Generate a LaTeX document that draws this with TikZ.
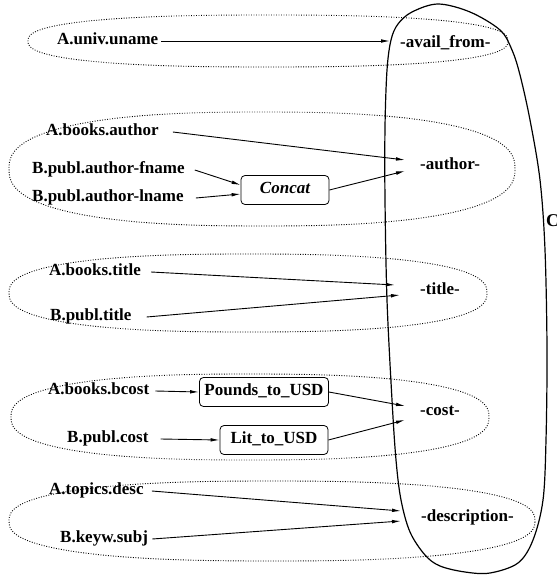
\documentclass[tikz,border=0pt]{standalone}
\usepackage{fontspec}
\setmainfont{Liberation Serif}
\usetikzlibrary{arrows.meta}
\newcommand\dottedoval[4]{%
  \draw[grp] plot[domain=0.5:360.5,samples=121]
    ({#1+#3*sign(cos(\x))*abs(cos(\x))^0.8},{#2+#4*sign(sin(\x))*abs(sin(\x))^0.8}) -- cycle;}
\begin{document}
\begin{tikzpicture}[x=1pt,y=-1pt,
  lbl/.style={font=\fontsize{17}{19}\selectfont\bfseries, inner sep=0pt, anchor=west, text height=11pt, text depth=3.5pt},
  fnbox/.style={draw, rounded corners=4pt, line width=0.8pt, font=\fontsize{17}{19}\selectfont\bfseries, minimum height=29pt, inner xsep=5pt, text height=11pt, text depth=3.5pt},
  arr/.style={-{Latex[length=9pt,width=3.6pt]}, line width=0.9pt},
  grp/.style={line width=0.9pt, dash pattern=on 0.9pt off 1.6pt},
  outer/.style={line width=1.2pt}]
\useasboundingbox (0,0) rectangle (556,577);

% dotted groups
\dottedoval{268}{41}{240}{26}
\dottedoval{262}{169}{253}{57}
\dottedoval{248}{293}{239}{39}
\dottedoval{250}{417}{239}{43}
\dottedoval{272}{521}{263}{40}

% outer closed curve
\draw[outer] plot[smooth cycle, tension=0.55] coordinates {
 (438,4) (470,12) (500,30) (512,50) (520,75) (530,120) (540,180) (545,250)
 (547,350) (546,440) (543,500) (533,540) (518,563) (490,573) (465,572)
 (440,566) (425,555) (410,532) (401,500) (396,460) (392,400) (387,300)
 (385,200) (385,127) (387,70) (391,40) (398,24) (412,12)};

% sources
\node[lbl] (su)  at (57,41)  {A.univ.uname};
\node[lbl] (sba) at (46,132) {A.books.author};
\node[lbl] (sbf) at (32,170) {B.publ.author-fname};
\node[lbl] (sbl) at (32,198) {B.publ.author-lname};
\node[lbl] (sbt) at (49,272) {A.books.title};
\node[lbl] (spt) at (50,317) {B.publ.title};
\node[lbl] (sbc) at (48,391) {A.books.bcost};
\node[lbl] (spc) at (67,439) {B.publ.cost};
\node[lbl] (std) at (49,491) {A.topics.desc};
\node[lbl] (skw) at (60,539) {B.keyw.subj};

% targets
\node[lbl] (tav) at (400,44)  {-avail\_from-};
\node[lbl] (tau) at (420,166) {-author-};
\node[lbl] (tti) at (420,291) {-title-};
\node[lbl] (tco) at (420,412) {-cost-};
\node[lbl] (tde) at (421,518) {-description-};

% functions
\node[fnbox, minimum width=88pt] (fcat) at (285,190) {\itshape Concat};
\node[fnbox, minimum width=128pt] (fpd) at (264,392) {Pounds\_to\_USD};
\node[fnbox, minimum width=108pt] (flt) at (274,440) {Lit\_to\_USD};

\node[font=\fontsize{18}{20}\selectfont\bfseries, anchor=west, inner sep=0pt] (cc) at (546,221) {C};

% connectors
\draw[arr] ([xshift=3pt]su.east) -- ([xshift=-10pt,yshift=3pt]tav.west);
\draw[arr] ([xshift=14pt]sba.east) -- ([xshift=-15pt,yshift=6pt]tau.west);
\draw[arr] ([xshift=10pt]sbf.east) -- ([yshift=5pt]fcat.west);
\draw[arr] ([xshift=12pt]sbl.east) -- ([yshift=-4pt]fcat.west);
\draw[arr] (fcat.east) -- ([xshift=-15pt,yshift=-5pt]tau.west);
\draw[arr] ([xshift=10pt]sbt.east) -- ([xshift=-25pt,yshift=6pt]tti.west);
\draw[arr] ([xshift=15pt]spt.east) -- ([xshift=-20pt,yshift=-4pt]tti.west);
\draw[arr] ([xshift=6pt]sbc.east) -- (fpd.west);
\draw[arr] ([xshift=12pt]spc.east) -- (flt.west);
\draw[arr] (fpd.east) -- ([xshift=-15pt,yshift=6pt]tco.west);
\draw[arr] (flt.east) -- ([xshift=-15pt,yshift=-8pt]tco.west);
\draw[arr] ([xshift=8pt]std.east) -- ([xshift=-20pt,yshift=7pt]tde.west);
\draw[arr] ([xshift=4pt]skw.east) -- ([xshift=-20pt,yshift=-3pt]tde.west);
\end{tikzpicture}
\end{document}
